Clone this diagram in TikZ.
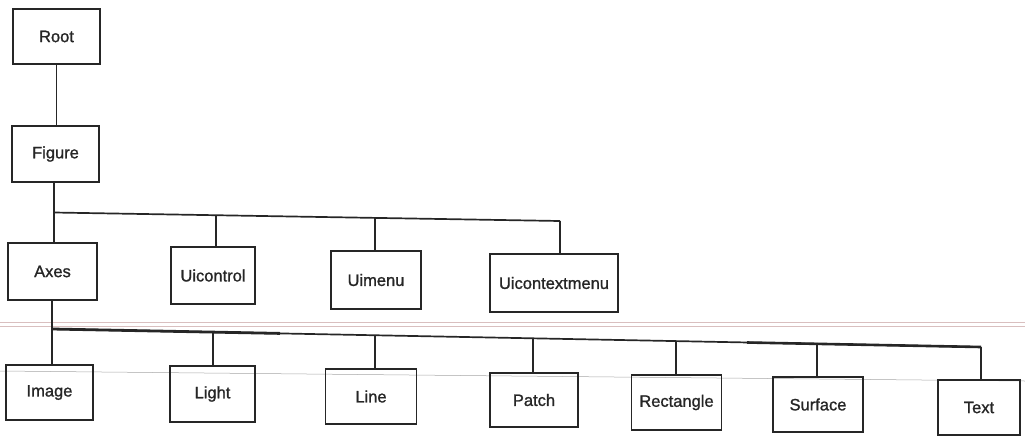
\documentclass[tikz,border=0pt]{standalone}
\usepackage{fontspec}
\setmainfont{Liberation Sans}
\newfontfamily\boxfont[FakeBold=1.2]{Liberation Sans}
\begin{document}
\begin{tikzpicture}[x=1pt,y=-1pt,
  box/.style={draw=black!85, line width=1.7pt, rectangle, inner sep=0pt,
    font=\boxfont\fontsize{16.5}{18}\selectfont, text=black!85},
  link/.style={draw=black!85, line width=1.7pt},
  scanpink/.style={draw=red!25!gray!40, line width=0.8pt},
  scangray/.style={draw=black!35, line width=0.5pt}]
\useasboundingbox (0,0) rectangle (1025,437);
% faint scan lines
\draw[scanpink] (0,322) -- (1025,322);
\draw[scanpink] (0,326) -- (1025,326);
\draw[scangray] (0,371) -- (1025,381);
% nodes
\node[box, minimum width=87pt, minimum height=55pt] (root) at (56.5,36.5) {Root};
\node[box, minimum width=87pt, minimum height=56pt] (figure) at (55.5,154) {Figure};
\node[box, minimum width=89pt, minimum height=57pt] (axes) at (52.5,271.5) {Axes};
\node[box, minimum width=84pt, minimum height=57pt] (uicontrol) at (213,275.5) {Uicontrol};
\node[box, minimum width=90pt, minimum height=58pt] (uimenu) at (376,280) {Uimenu};
\node[box, minimum width=128pt, minimum height=58pt] (uicontextmenu) at (554,283) {Uicontextmenu};
\node[box, minimum width=87pt, minimum height=55pt] (image) at (49.5,392.5) {Image};
\node[box, minimum width=85pt, minimum height=56pt] (light) at (212.5,394) {Light};
\node[box, minimum width=91pt, minimum height=55pt] (line) at (371,396.5) {Line};
\node[box, minimum width=88pt, minimum height=54pt] (patch) at (534,400) {Patch};
\node[box, minimum width=90pt, minimum height=55pt] (rectangle) at (676.5,402.5) {Rectangle};
\node[box, minimum width=90pt, minimum height=55pt] (surface) at (818,404.5) {Surface};
\node[box, minimum width=82pt, minimum height=55pt] (text) at (979,407.5) {Text};
% connector coordinates
\coordinate (fb) at (54,212.5);
\coordinate (fe) at (560,221);
\coordinate (t2) at (216,215.3);
\coordinate (t3) at (375,218);
\coordinate (t4) at (560,221);
\coordinate (ab) at (52,329);
\coordinate (ae) at (981,347);
\coordinate (b2) at (213,332);
\coordinate (b3) at (375,335.2);
\coordinate (b4) at (533,338.5);
\coordinate (b5) at (676,341.2);
\coordinate (b6) at (817,344);
% connectors
\draw[link] (root.south) -- (root.south |- figure.north);
\draw[link] (figure.south -| fb) -- (fb) -- (fe);
\draw[link] (fb) -- (fb |- axes.north);
\draw[link] (t2) -- (t2 |- uicontrol.north);
\draw[link] (t3) -- (t3 |- uimenu.north);
\draw[link] (t4) -- (t4 |- uicontextmenu.north);
\draw[link] (axes.south -| ab) -- (ab) -- (ae);
\draw[link, line width=2.8pt] (ab) -- (280,333.4);
\draw[link, line width=2.6pt] (747,342.5) -- (ae);
\draw[link] (ab) -- (ab |- image.north);
\draw[link] (b2) -- (b2 |- light.north);
\draw[link] (b3) -- (b3 |- line.north);
\draw[link] (b4) -- (b4 |- patch.north);
\draw[link] (b5) -- (b5 |- rectangle.north);
\draw[link] (b6) -- (b6 |- surface.north);
\draw[link] (ae) -- (ae |- text.north);
\end{tikzpicture}
\end{document}
